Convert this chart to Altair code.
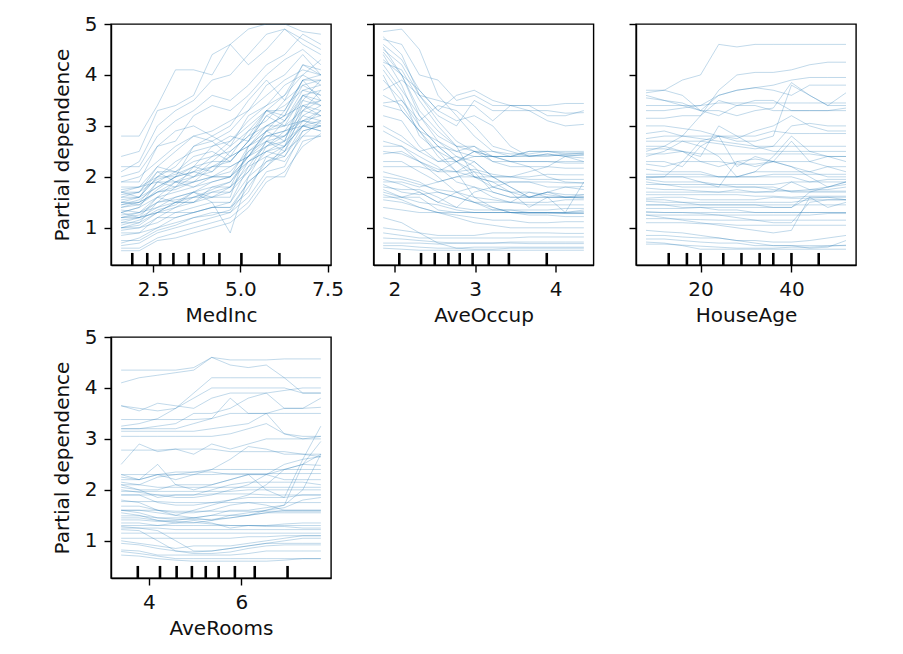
import altair as alt
import pandas as pd

# ---------------- data ----------------
medinc_grid = [1.58, 2.10, 2.62, 3.14, 3.66, 4.19, 4.71, 5.23, 5.75, 6.27, 6.79, 7.31]
medinc_ice = [
    [2.8, 2.8, 3.4, 4.1, 4.1, 4.0, 4.6, 4.9, 5.0, 5.0, 4.85, 4.8],
    [2.4, 2.5, 3.3, 3.4, 3.6, 4.4, 4.6, 4.2, 4.5, 4.9, 4.6, 4.4],
    [2.1, 2.3, 3.0, 3.3, 3.5, 3.9, 4.0, 4.4, 4.8, 4.9, 4.7, 4.5],
    [1.9, 1.9, 2.6, 2.7, 3.2, 3.4, 3.3, 3.6, 4.0, 4.3, 4.5, 4.2],
    [1.8, 1.8, 2.2, 2.5, 2.8, 2.7, 2.9, 3.3, 3.8, 4.0, 4.4, 4.0],
    [1.7, 1.7, 2.1, 2.1, 2.0, 2.3, 2.6, 2.9, 3.3, 3.3, 3.9, 3.9],
    [1.7, 1.6, 1.8, 2.0, 2.1, 2.2, 2.3, 2.7, 3.2, 3.0, 3.6, 3.4],
    [1.6, 1.6, 2.1, 1.9, 2.0, 2.1, 2.4, 2.6, 3.0, 3.2, 3.4, 3.5],
    [1.5, 1.5, 1.9, 1.9, 2.1, 2.0, 2.1, 2.5, 2.8, 2.8, 3.2, 3.1],
    [1.45, 1.55, 1.8, 2.0, 2.6, 2.7, 2.4, 2.9, 3.1, 3.5, 3.8, 3.9],
    [1.4, 1.5, 1.7, 1.8, 1.9, 2.2, 2.2, 2.4, 2.9, 3.0, 3.1, 3.0],
    [1.3, 1.4, 1.6, 1.7, 1.8, 1.9, 2.0, 2.3, 2.6, 2.7, 3.0, 3.1],
    [1.25, 1.3, 1.4, 1.6, 1.7, 1.8, 1.8, 2.5, 2.7, 2.6, 3.4, 3.2],
    [1.2, 1.2, 1.3, 1.5, 1.6, 1.6, 1.7, 2.3, 2.5, 2.4, 3.0, 2.9],
    [1.15, 1.2, 1.4, 1.5, 1.5, 1.6, 1.6, 2.6, 2.9, 2.7, 3.6, 3.5],
    [1.1, 1.1, 1.3, 1.3, 1.4, 1.5, 1.5, 2.2, 2.4, 2.3, 2.8, 2.8],
    [1.0, 1.0, 1.2, 1.2, 1.3, 1.4, 1.4, 1.9, 2.2, 2.6, 3.0, 3.0],
    [0.95, 1.0, 1.1, 1.3, 1.3, 1.4, 1.5, 2.0, 2.3, 2.5, 3.3, 3.2],
    [0.9, 0.9, 1.0, 1.1, 1.2, 1.3, 1.3, 1.8, 2.3, 2.4, 2.9, 3.0],
    [0.65, 0.7, 0.9, 1.0, 1.1, 1.2, 1.3, 1.6, 2.1, 2.2, 2.9, 3.0],
    [0.6, 0.6, 0.8, 0.9, 1.0, 1.1, 1.2, 1.5, 2.0, 2.0, 2.7, 2.8],
    [0.55, 0.55, 0.75, 0.8, 0.9, 1.0, 1.1, 1.4, 1.9, 2.1, 2.6, 2.85],
    [1.75, 1.8, 2.0, 2.3, 2.5, 2.6, 2.7, 3.0, 3.3, 3.6, 4.0, 3.8],
    [1.35, 1.3, 1.5, 1.8, 2.2, 2.6, 2.8, 2.7, 3.2, 3.4, 3.7, 3.6],
    [1.2, 1.3, 1.6, 1.9, 1.9, 2.0, 2.0, 2.4, 2.9, 3.1, 3.6, 3.7],
    [1.0, 1.1, 1.5, 1.6, 1.7, 1.5, 0.9, 2.0, 2.6, 2.9, 3.1, 3.3],
    [1.5, 1.6, 2.0, 2.2, 2.6, 2.8, 2.6, 3.2, 3.4, 3.6, 4.2, 4.1],
    [2.0, 2.1, 2.6, 2.9, 3.0, 2.8, 3.0, 3.5, 3.9, 3.5, 4.2, 4.0],
    [1.6, 1.7, 2.2, 2.1, 2.4, 2.5, 2.3, 2.7, 3.3, 3.2, 3.8, 3.6],
    [0.85, 0.9, 1.2, 1.4, 1.6, 1.7, 1.8, 2.1, 2.7, 2.5, 3.1, 3.2],
    [1.3, 1.2, 1.6, 1.5, 1.7, 1.9, 2.0, 2.4, 2.8, 2.9, 3.0, 3.3],
    [1.9, 2.0, 2.3, 2.6, 2.8, 2.9, 3.1, 3.3, 3.6, 3.9, 4.1, 4.0],
    [1.45, 1.5, 1.7, 1.9, 1.8, 2.0, 2.2, 2.4, 2.7, 3.1, 3.5, 3.4],
    [1.1, 1.2, 1.3, 1.4, 1.5, 1.7, 1.7, 2.1, 2.5, 2.6, 3.2, 3.4],
    [0.7, 0.8, 1.0, 1.2, 1.3, 1.4, 1.4, 1.7, 2.4, 2.6, 3.0, 2.9],
    [1.7, 1.8, 1.9, 2.1, 2.3, 2.4, 2.7, 3.1, 3.4, 3.8, 4.0, 4.3],
    [1.55, 1.6, 2.0, 2.0, 2.2, 2.3, 2.3, 2.7, 3.0, 3.0, 3.3, 3.7],
    [1.0, 1.05, 1.3, 1.5, 1.5, 1.8, 1.9, 2.3, 2.5, 2.7, 3.5, 3.9],
    [2.2, 2.2, 2.8, 3.1, 3.3, 3.6, 3.5, 3.8, 4.2, 4.4, 4.8, 4.6],
    [1.3, 1.4, 1.9, 1.8, 2.0, 2.2, 2.4, 2.6, 2.9, 3.3, 3.9, 3.5],
    [1.5, 1.45, 1.7, 1.75, 1.9, 2.0, 2.0, 2.6, 2.8, 2.9, 3.4, 3.3],
    [1.65, 1.7, 1.95, 2.05, 2.2, 2.1, 2.5, 2.8, 3.3, 3.1, 3.7, 3.8],
    [1.2, 1.25, 1.5, 1.55, 1.6, 1.75, 1.9, 2.4, 2.6, 2.8, 3.1, 3.05],
    [0.75, 0.75, 0.95, 1.05, 1.2, 1.25, 1.35, 1.9, 2.2, 2.5, 2.8, 3.1],
    [1.4, 1.45, 1.75, 2.0, 2.1, 2.4, 2.5, 2.8, 3.0, 3.2, 3.9, 4.0],
    [1.05, 1.15, 1.35, 1.45, 1.7, 1.6, 1.8, 2.2, 2.7, 2.8, 3.3, 3.5],
]
medinc_deciles = [1.90, 2.33, 2.70, 3.08, 3.52, 3.95, 4.40, 5.03, 6.12]

aveoccup_grid = [1.86, 2.09, 2.31, 2.54, 2.77, 2.99, 3.22, 3.44, 3.67, 3.90, 4.12, 4.35]
aveoccup_ice = [
    [4.85, 4.9, 4.5, 3.6, 3.2, 2.8, 2.5, 2.4, 2.4, 2.4, 2.45, 2.45],
    [4.7, 4.6, 4.0, 3.9, 3.5, 3.6, 3.4, 3.4, 3.4, 3.4, 3.44, 3.44],
    [4.6, 4.3, 3.7, 3.3, 3.6, 3.7, 3.5, 3.4, 3.3, 3.1, 3.0, 3.03],
    [4.5, 4.2, 3.6, 3.1, 2.7, 2.5, 2.3, 2.3, 2.3, 2.3, 2.27, 2.27],
    [4.45, 4.0, 3.3, 2.9, 2.6, 2.0, 1.9, 1.9, 1.9, 1.9, 1.88, 1.88],
    [4.4, 3.8, 3.0, 2.6, 2.3, 2.1, 1.7, 1.6, 1.6, 1.6, 1.6, 1.61],
    [4.25, 4.1, 3.5, 3.0, 2.6, 2.6, 2.4, 2.4, 2.5, 2.5, 2.44, 2.47],
    [4.1, 3.6, 2.8, 2.5, 2.1, 2.3, 2.0, 2.0, 2.1, 2.2, 2.17, 2.17],
    [4.0, 3.3, 2.9, 2.4, 2.1, 1.6, 1.4, 1.3, 1.3, 1.3, 1.3, 1.32],
    [3.7, 3.9, 3.6, 3.2, 3.0, 3.5, 3.3, 3.3, 3.3, 3.3, 3.25, 3.26],
    [3.45, 3.5, 3.1, 3.4, 3.3, 3.0, 2.6, 2.5, 2.4, 2.45, 2.4, 2.37],
    [3.4, 3.3, 2.9, 2.7, 2.4, 2.3, 2.0, 1.8, 1.6, 1.7, 1.6, 1.58],
    [3.2, 3.1, 2.6, 2.3, 2.3, 2.4, 2.4, 2.4, 2.5, 2.5, 2.5, 2.5],
    [2.9, 2.7, 2.5, 2.3, 2.4, 2.2, 1.8, 1.9, 1.9, 1.8, 1.8, 1.81],
    [2.6, 2.6, 2.4, 2.2, 1.9, 1.8, 1.7, 1.6, 1.6, 1.7, 1.65, 1.65],
    [2.45, 2.5, 2.3, 2.0, 1.7, 1.5, 1.35, 1.35, 1.3, 1.3, 1.28, 1.28],
    [2.3, 2.3, 2.1, 1.9, 2.0, 2.0, 2.0, 2.0, 2.0, 2.05, 2.04, 2.04],
    [1.9, 1.9, 1.8, 1.9, 2.0, 2.1, 2.0, 1.8, 1.6, 1.6, 1.6, 1.6],
    [1.95, 1.85, 1.7, 1.5, 1.4, 1.35, 1.35, 1.35, 1.35, 1.35, 1.38, 1.38],
    [1.85, 1.7, 1.65, 1.7, 1.6, 1.5, 1.4, 1.3, 1.3, 1.3, 1.3, 1.35],
    [1.8, 1.75, 1.75, 1.6, 1.4, 1.7, 1.8, 1.7, 1.6, 1.7, 1.8, 1.75],
    [1.75, 1.6, 1.6, 1.35, 1.3, 1.3, 1.3, 1.3, 1.25, 1.25, 1.22, 1.22],
    [1.7, 1.6, 1.7, 1.5, 1.7, 1.8, 1.6, 1.5, 1.7, 1.6, 1.3, 1.9],
    [1.55, 1.5, 1.4, 1.3, 1.25, 1.2, 1.15, 1.15, 1.1, 1.1, 1.12, 1.12],
    [1.0, 0.95, 0.9, 0.85, 0.85, 0.85, 0.9, 0.9, 0.9, 0.9, 0.89, 0.89],
    [0.9, 0.85, 0.8, 0.8, 0.8, 0.8, 0.8, 0.8, 0.82, 0.82, 0.82, 0.82],
    [0.7, 0.7, 0.7, 0.68, 0.7, 0.7, 0.7, 0.7, 0.69, 0.69, 0.69, 0.69],
    [0.65, 0.65, 0.62, 0.6, 0.6, 0.62, 0.62, 0.62, 0.62, 0.62, 0.62, 0.62],
    [0.6, 0.58, 0.56, 0.56, 0.56, 0.56, 0.56, 0.56, 0.56, 0.56, 0.56, 0.56],
    [1.2, 1.1, 0.9, 0.7, 0.6, 0.58, 0.58, 0.6, 0.6, 0.6, 0.6, 0.6],
    [4.3, 4.0, 3.7, 3.3, 3.1, 3.2, 3.0, 2.6, 2.4, 2.45, 2.4, 2.44],
    [3.9, 3.5, 3.0, 2.6, 2.3, 2.0, 1.8, 1.7, 1.7, 1.65, 1.6, 1.6],
    [2.7, 2.6, 2.3, 2.1, 2.3, 2.5, 2.4, 2.3, 2.2, 2.2, 2.4, 2.3],
    [2.1, 2.0, 1.9, 1.7, 1.6, 1.5, 1.5, 1.5, 1.5, 1.5, 1.55, 1.55],
    [1.4, 1.35, 1.3, 1.3, 1.2, 1.1, 1.05, 1.0, 1.0, 1.0, 1.0, 1.0],
    [4.55, 4.0, 3.2, 2.7, 2.5, 2.4, 2.4, 2.4, 2.42, 2.42, 2.42, 2.42],
    [3.0, 2.8, 2.5, 2.6, 2.5, 2.6, 2.3, 2.2, 2.2, 2.0, 1.9, 1.88],
    [2.2, 2.2, 2.2, 2.1, 2.1, 2.0, 1.9, 1.7, 1.4, 1.6, 1.6, 1.65],
    [4.75, 4.4, 3.6, 3.5, 3.4, 3.4, 3.1, 3.4, 3.4, 3.2, 3.2, 3.3],
    [1.65, 1.55, 1.4, 1.3, 1.3, 1.3, 1.3, 1.3, 1.3, 1.3, 1.3, 1.3],
    [3.6, 3.4, 2.9, 2.5, 2.3, 2.5, 2.5, 2.45, 2.45, 2.5, 2.47, 2.47],
    [2.0, 1.95, 1.85, 1.75, 1.7, 1.6, 1.55, 1.5, 1.45, 1.45, 1.45, 1.45],
    [1.6, 1.6, 1.5, 1.45, 1.35, 1.3, 1.3, 1.3, 1.28, 1.28, 1.28, 1.28],
    [4.2, 3.7, 3.2, 2.8, 2.6, 2.5, 2.4, 2.3, 2.3, 2.3, 2.3, 2.3],
    [0.8, 0.78, 0.75, 0.72, 0.7, 0.7, 0.7, 0.72, 0.72, 0.72, 0.72, 0.72],
    [2.5, 2.45, 2.3, 2.15, 2.1, 2.15, 2.05, 2.0, 1.95, 1.95, 1.95, 1.95],
]
aveoccup_deciles = [2.06, 2.33, 2.50, 2.67, 2.81, 2.97, 3.17, 3.42, 3.89]

houseage_grid = [8, 12, 16, 20, 24, 28, 32, 36, 40, 44, 48, 52]
houseage_ice = [
    [3.65, 3.7, 3.9, 4.0, 4.6, 4.55, 4.6, 4.6, 4.6, 4.6, 4.6, 4.6],
    [2.5, 2.6, 2.8, 3.2, 3.7, 4.0, 4.05, 4.05, 4.1, 4.2, 4.25, 4.25],
    [3.7, 3.7, 3.6, 3.3, 3.6, 3.7, 3.75, 3.8, 3.9, 3.95, 3.95, 3.95],
    [3.55, 3.5, 3.4, 3.3, 3.3, 3.2, 3.3, 3.35, 3.85, 3.6, 3.4, 3.65],
    [3.3, 3.3, 3.35, 3.4, 3.6, 3.7, 3.75, 3.7, 3.6, 3.8, 3.8, 3.8],
    [3.15, 3.15, 3.2, 3.2, 3.5, 3.4, 3.4, 3.3, 3.3, 3.3, 3.3, 3.35],
    [3.0, 3.0, 2.95, 2.9, 2.8, 2.7, 2.7, 2.8, 3.8, 3.6, 3.4, 3.4],
    [2.85, 2.9, 2.8, 2.75, 2.7, 2.65, 2.6, 2.6, 2.6, 2.6, 2.6, 2.6],
    [2.7, 2.7, 2.7, 2.7, 2.65, 2.6, 2.55, 2.6, 3.0, 3.05, 3.0, 3.0],
    [2.6, 2.6, 2.5, 2.4, 3.0, 2.8, 2.6, 2.5, 2.5, 2.5, 2.5, 2.5],
    [2.45, 2.45, 2.5, 2.45, 2.45, 2.45, 2.45, 2.45, 2.45, 2.45, 2.4, 2.4],
    [2.3, 2.3, 2.2, 2.6, 2.8, 2.2, 2.4, 2.3, 2.3, 2.3, 2.4, 2.4],
    [2.25, 2.2, 2.3, 2.3, 2.3, 2.25, 2.25, 2.3, 2.7, 2.3, 2.2, 2.1],
    [2.15, 2.1, 2.1, 2.1, 2.0, 2.0, 2.1, 2.1, 2.1, 2.1, 2.2, 2.2],
    [2.0, 2.0, 2.0, 2.0, 2.0, 2.0, 2.0, 2.0, 2.0, 1.9, 1.95, 1.95],
    [1.98, 2.0, 2.0, 1.9, 1.8, 2.3, 2.2, 2.3, 2.2, 2.0, 1.8, 1.9],
    [1.85, 1.85, 1.8, 1.8, 1.8, 1.8, 1.8, 1.8, 1.7, 1.7, 1.7, 1.7],
    [1.78, 1.75, 1.75, 1.72, 1.7, 1.75, 1.7, 1.7, 1.9, 1.75, 1.75, 1.8],
    [1.65, 1.65, 1.65, 1.65, 1.65, 1.65, 1.62, 1.62, 1.6, 1.62, 1.62, 1.62],
    [1.58, 1.6, 1.6, 1.55, 1.55, 1.55, 1.55, 1.6, 1.58, 1.58, 1.6, 1.55],
    [1.52, 1.5, 1.5, 1.45, 1.45, 1.45, 1.45, 1.4, 1.4, 1.7, 1.8, 1.9],
    [1.45, 1.45, 1.4, 1.4, 1.35, 1.35, 1.3, 1.3, 1.3, 1.3, 1.3, 1.3],
    [1.38, 1.38, 1.38, 1.4, 1.4, 1.4, 1.4, 1.4, 1.4, 1.6, 1.4, 1.5],
    [1.32, 1.3, 1.3, 1.28, 1.25, 1.2, 1.15, 1.1, 1.1, 1.5, 1.55, 1.55],
    [1.25, 1.25, 1.25, 1.25, 1.25, 1.25, 1.25, 1.25, 1.25, 1.25, 1.28, 1.28],
    [1.18, 1.18, 1.17, 1.16, 1.15, 1.15, 1.15, 1.15, 1.15, 1.15, 1.15, 1.15],
    [1.25, 1.2, 1.15, 1.1, 1.05, 1.0, 0.95, 0.9, 0.95, 1.6, 1.6, 1.6],
    [0.95, 0.92, 0.9, 0.85, 0.8, 0.75, 0.7, 0.65, 0.65, 0.6, 0.62, 0.75],
    [0.85, 0.85, 0.82, 0.8, 0.8, 0.75, 0.75, 0.72, 0.72, 0.75, 0.8, 0.85],
    [0.78, 0.78, 0.75, 0.72, 0.7, 0.7, 0.65, 0.65, 0.65, 0.65, 0.65, 0.65],
    [0.72, 0.7, 0.65, 0.58, 0.58, 0.58, 0.58, 0.58, 0.58, 0.58, 0.58, 0.58],
    [2.4, 2.5, 2.7, 2.6, 2.4, 2.0, 2.1, 2.4, 2.8, 2.5, 2.4, 2.3],
    [1.95, 1.9, 1.9, 1.9, 1.85, 1.85, 1.85, 1.85, 1.9, 1.9, 1.9, 1.9],
    [1.7, 1.7, 1.7, 1.7, 1.7, 1.7, 1.7, 1.72, 1.72, 1.72, 1.72, 1.72],
    [1.1, 1.1, 1.1, 1.08, 1.08, 1.05, 1.05, 1.05, 1.05, 1.05, 1.05, 1.05],
    [0.68, 0.68, 0.66, 0.64, 0.62, 0.6, 0.6, 0.6, 0.62, 0.62, 0.64, 0.66],
    [2.0, 2.0, 2.3, 2.7, 2.8, 2.75, 2.9, 3.0, 3.2, 3.0, 2.9, 2.9],
    [2.75, 2.8, 2.8, 2.8, 2.8, 2.8, 2.8, 2.9, 2.85, 2.85, 2.85, 2.85],
    [3.6, 3.5, 3.45, 3.3, 3.2, 3.4, 3.5, 3.5, 3.3, 3.3, 3.3, 3.3],
    [1.45, 1.45, 1.45, 1.45, 1.45, 1.45, 1.45, 1.45, 1.45, 1.45, 1.45, 1.45],
    [2.05, 2.05, 2.05, 2.05, 2.0, 2.0, 2.0, 2.05, 2.05, 2.05, 2.05, 2.05],
    [1.55, 1.55, 1.5, 1.5, 1.5, 1.5, 1.5, 1.5, 1.5, 1.55, 1.55, 1.55],
    [1.3, 1.3, 1.3, 1.3, 1.3, 1.3, 1.3, 1.3, 1.3, 1.3, 1.3, 1.3],
    [2.55, 2.55, 2.5, 2.3, 2.2, 2.3, 2.35, 2.3, 2.2, 2.1, 2.0, 2.0],
    [1.9, 1.85, 1.85, 1.85, 1.85, 1.8, 1.8, 1.75, 1.72, 1.75, 1.8, 1.85],
    [3.4, 3.4, 3.4, 3.4, 3.45, 3.45, 3.45, 3.45, 3.45, 3.45, 3.45, 3.45],
]
houseage_deciles = [13, 17, 20, 25, 29, 33, 36, 40, 46]

averooms_grid = [3.40, 3.79, 4.19, 4.58, 4.97, 5.36, 5.76, 6.15, 6.54, 6.93, 7.33, 7.72]
averooms_ice = [
    [4.35, 4.35, 4.35, 4.35, 4.4, 4.6, 4.45, 4.4, 4.45, 4.2, 3.9, 3.9],
    [4.1, 4.2, 4.25, 4.3, 4.35, 4.6, 4.55, 4.55, 4.55, 4.57, 4.57, 4.57],
    [3.65, 3.6, 3.55, 3.6, 3.9, 4.2, 4.2, 4.2, 4.2, 4.2, 4.2, 4.2],
    [3.65, 3.55, 3.7, 3.65, 3.6, 3.8, 3.9, 3.9, 3.9, 3.95, 4.0, 4.0],
    [3.25, 3.3, 3.4, 3.6, 3.8, 4.0, 4.0, 4.0, 4.0, 4.0, 3.9, 3.9],
    [3.2, 3.2, 3.25, 3.3, 3.5, 3.5, 3.6, 3.8, 3.9, 3.6, 3.6, 3.8],
    [3.38, 3.38, 3.38, 3.38, 3.38, 3.4, 3.5, 3.5, 3.5, 3.5, 3.5, 3.5],
    [3.2, 3.2, 3.2, 3.2, 3.3, 3.4, 3.8, 3.5, 3.5, 3.1, 3.05, 3.05],
    [3.15, 3.15, 3.15, 3.15, 3.15, 3.2, 3.25, 3.3, 3.5, 3.6, 3.6, 3.62],
    [2.5, 2.9, 2.75, 2.8, 2.7, 2.9, 2.8, 2.9, 3.0, 3.0, 3.0, 3.0],
    [2.78, 2.78, 2.78, 2.8, 2.8, 2.8, 2.75, 2.75, 2.75, 2.75, 2.7, 2.7],
    [2.3, 2.2, 2.3, 2.2, 2.3, 2.4, 2.6, 2.85, 2.8, 2.7, 2.7, 2.65],
    [2.25, 2.2, 2.5, 2.1, 2.0, 2.1, 2.2, 2.3, 2.3, 2.4, 2.5, 2.48],
    [2.2, 2.2, 2.3, 2.35, 2.35, 2.35, 2.3, 2.3, 2.3, 2.2, 2.2, 2.2],
    [2.1, 2.0, 2.0, 2.1, 2.1, 2.1, 2.2, 2.3, 2.0, 1.85, 2.6, 3.25],
    [2.05, 2.0, 1.85, 1.9, 1.9, 2.0, 2.1, 2.15, 2.15, 2.15, 2.15, 2.1],
    [1.97, 1.97, 1.97, 1.97, 1.97, 1.97, 1.97, 2.0, 2.0, 2.0, 2.0, 2.0],
    [1.9, 1.9, 1.75, 1.7, 1.7, 1.75, 1.8, 1.85, 1.85, 1.85, 1.9, 1.9],
    [1.77, 1.77, 1.77, 1.75, 1.75, 1.75, 1.75, 1.75, 1.75, 1.75, 1.75, 1.75],
    [1.68, 1.68, 1.6, 1.55, 1.55, 1.6, 1.7, 1.75, 1.7, 1.6, 1.6, 1.6],
    [1.55, 1.5, 1.4, 1.4, 1.45, 1.5, 1.6, 1.6, 1.65, 1.7, 2.0, 2.7],
    [1.49, 1.49, 1.45, 1.42, 1.42, 1.42, 1.45, 1.5, 1.55, 1.55, 1.55, 1.55],
    [1.41, 1.41, 1.38, 1.38, 1.36, 1.33, 1.3, 1.3, 1.3, 1.3, 1.3, 1.3],
    [1.35, 1.35, 1.3, 1.35, 1.4, 1.35, 1.25, 1.3, 1.3, 1.33, 1.35, 1.35],
    [1.28, 1.25, 1.2, 1.0, 0.8, 0.8, 0.85, 0.9, 0.95, 0.95, 0.95, 0.95],
    [1.22, 1.2, 1.0, 0.8, 0.75, 0.75, 0.78, 0.85, 0.9, 0.92, 0.92, 0.92],
    [1.15, 1.15, 1.15, 1.15, 1.15, 1.15, 1.15, 1.15, 1.15, 1.15, 1.15, 1.15],
    [1.05, 1.05, 1.05, 1.05, 1.05, 1.05, 1.05, 1.08, 1.08, 1.1, 1.1, 1.1],
    [0.82, 0.8, 0.72, 0.72, 0.72, 0.72, 0.72, 0.75, 0.8, 0.8, 0.8, 0.8],
    [0.79, 0.75, 0.7, 0.65, 0.65, 0.65, 0.65, 0.65, 0.65, 0.65, 0.65, 0.65],
    [1.8, 1.75, 1.6, 1.5, 1.6, 1.7, 1.8, 1.9, 2.1, 2.4, 2.5, 2.7],
    [1.6, 1.6, 1.55, 1.5, 1.45, 1.4, 1.45, 1.5, 1.6, 1.7, 2.5, 2.95],
    [1.3, 1.3, 1.3, 1.3, 1.3, 1.3, 1.3, 1.3, 1.28, 1.28, 1.25, 1.25],
    [2.15, 2.1, 2.25, 2.3, 2.35, 2.4, 2.4, 2.4, 2.4, 2.4, 2.4, 2.4],
    [1.0, 0.95, 0.9, 0.85, 0.9, 0.9, 0.9, 0.95, 1.0, 1.05, 1.1, 1.1],
    [1.6, 1.55, 1.45, 1.45, 1.45, 1.5, 1.5, 1.5, 1.55, 1.6, 1.6, 1.6],
    [2.0, 1.95, 1.9, 1.85, 1.85, 1.9, 2.0, 2.1, 2.3, 2.5, 2.6, 2.65],
    [1.9, 1.9, 1.9, 1.9, 1.9, 1.92, 1.92, 1.92, 1.9, 1.9, 1.9, 1.9],
    [0.72, 0.7, 0.65, 0.62, 0.6, 0.6, 0.6, 0.6, 0.6, 0.62, 0.65, 0.65],
    [3.05, 3.05, 3.05, 3.05, 3.05, 3.05, 3.1, 3.2, 3.3, 3.1, 3.0, 3.05],
    [2.1, 2.1, 2.05, 2.05, 2.05, 2.05, 2.05, 2.05, 2.05, 2.05, 2.05, 2.05],
    [1.45, 1.45, 1.4, 1.35, 1.35, 1.4, 1.5, 1.55, 1.6, 1.65, 1.8, 1.85],
    [1.25, 1.25, 1.25, 1.22, 1.22, 1.22, 1.22, 1.22, 1.22, 1.22, 1.22, 1.22],
    [2.3, 2.3, 2.3, 2.3, 2.3, 2.3, 2.32, 2.32, 2.32, 2.32, 2.32, 2.32],
    [1.6, 1.6, 1.6, 1.58, 1.58, 1.58, 1.58, 1.58, 1.58, 1.58, 1.58, 1.58],
    [0.95, 0.92, 0.85, 0.8, 0.78, 0.8, 0.85, 0.9, 0.95, 1.0, 1.05, 1.05],
]
averooms_deciles = [3.76, 4.24, 4.60, 4.93, 5.23, 5.51, 5.86, 6.29, 7.00]

y_ticks = [1, 2, 3, 4, 5]
Y_LO, Y_HI = 0.27, 5.0
FONT = "DejaVu Sans"
W, H = 220, 241


def panel(name, grid, ice, deciles, xdomain, xticks, xfmt, show_y):
    rows = []
    for i, ys in enumerate(ice):
        for x, y in zip(grid, ys):
            rows.append({"x": x, "y": y, "sample": i})
    df = pd.DataFrame(rows)
    rug = pd.DataFrame({"x": deciles})
    rug["y0"] = Y_LO
    rug["y1"] = Y_LO + 0.05 * (Y_HI - Y_LO)

    xscale = alt.Scale(domain=xdomain, nice=False, zero=False)
    yscale = alt.Scale(domain=[Y_LO, Y_HI], nice=False, zero=False)
    xaxis = alt.Axis(values=xticks, format=xfmt, title=name)
    if show_y:
        yaxis = alt.Axis(values=y_ticks, format="d", title="Partial dependence")
    else:
        yaxis = alt.Axis(values=y_ticks, labels=False, title=None)

    lines = alt.Chart(df).mark_line(
        color="#1f77b4", strokeWidth=1.0, opacity=0.28, clip=True
    ).encode(
        x=alt.X("x:Q", scale=xscale, axis=xaxis),
        y=alt.Y("y:Q", scale=yscale, axis=yaxis),
        detail="sample:N",
    )
    ticks = alt.Chart(rug).mark_rule(color="black", strokeWidth=2.6).encode(
        x="x:Q", y="y0:Q", y2="y1:Q"
    )
    return alt.layer(lines, ticks).properties(width=W, height=H)


p1 = panel("MedInc", medinc_grid, medinc_ice, medinc_deciles,
           [1.29, 7.60], [2.5, 5.0, 7.5], ".1f", True)
p2 = panel("AveOccup", aveoccup_grid, aveoccup_ice, aveoccup_deciles,
           [1.74, 4.47], [2, 3, 4], "d", False)
p3 = panel("HouseAge", houseage_grid, houseage_ice, houseage_deciles,
           [5.8, 54.2], [20, 40], "d", False)
p4 = panel("AveRooms", averooms_grid, averooms_ice, averooms_deciles,
           [3.18, 7.94], [4, 6], "d", True)

chart = alt.concat(
    p1, p2, p3, p4, columns=3,
    spacing=alt.RowColnumber(row=72, column=42.5),
    bounds="flush",
).properties(
    padding={"left": 43, "top": 5, "right": 5, "bottom": 5}
).configure_view(
    stroke="black", strokeWidth=1.4
).configure_axis(
    grid=False,
    domainColor="black",
    domainWidth=1.4,
    tickColor="black",
    tickWidth=1.4,
    tickSize=7,
    labelFont=FONT,
    labelFontSize=20,
    labelColor="#111111",
    labelPadding=7,
    titleFont=FONT,
    titleFontSize=20,
    titleFontWeight="normal",
    titleColor="#111111",
).configure_axisX(
    titlePadding=6,
).configure_axisY(
    titlePadding=12,
)

chart.save("out.html", embed_options={"renderer": "svg", "actions": False})
